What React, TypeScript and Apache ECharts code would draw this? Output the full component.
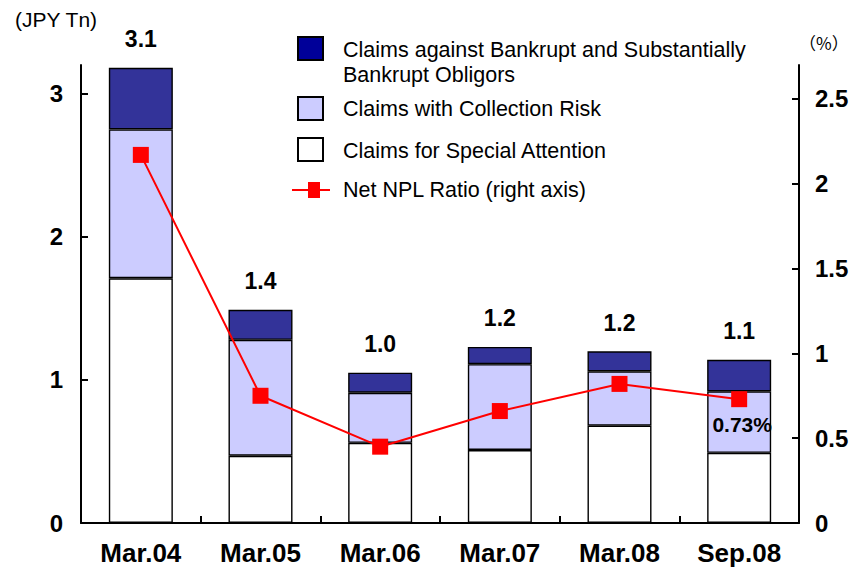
import React, { useEffect, useRef } from "react";
import * as echarts from "echarts";

const categories = ["Mar.04", "Mar.05", "Mar.06", "Mar.07", "Mar.08", "Sep.08"];
const specialAttention = [1.71, 0.47, 0.56, 0.51, 0.68, 0.49];
const collectionRisk = [1.04, 0.81, 0.35, 0.6, 0.38, 0.43];
const bankrupt = [0.43, 0.21, 0.14, 0.12, 0.14, 0.22];
const nplRatio = [2.17, 0.75, 0.45, 0.66, 0.82, 0.73];
const totalLabels = ["3.1", "1.4", "1.0", "1.2", "1.2", "1.1"];
const leftTicks = [0, 1, 2, 3];
const rightTicks = [0, 0.5, 1, 1.5, 2, 2.5];

const seriesNames = [
  "Claims against Bankrupt and Substantially\nBankrupt Obligors",
  "Claims with Collection Risk",
  "Claims for Special Attention",
  "Net NPL Ratio (right axis)",
];

const FONT = "'Liberation Sans', Arial, sans-serif";
const DARK = "#333399";
const LIGHT = "#CCCCFF";

export default function App() {
  const ref = useRef<HTMLDivElement>(null);
  useEffect(() => {
    if (!ref.current) return;
    const chart = echarts.init(ref.current, undefined, { renderer: "svg" });
    const barBorder = { borderColor: "#000", borderWidth: 1.4 };
    const legendText = (text: string, y: number) => ({
      type: "text",
      left: 343,
      top: y,
      style: { text, font: `21.5px ${FONT}`, fill: "#000", lineHeight: 25 },
    });
    chart.setOption({
      animation: false,
      backgroundColor: "#fff",
      textStyle: { fontFamily: FONT },
      grid: { left: 81, right: 55, top: 65, bottom: 45, containLabel: false },
      xAxis: {
        type: "category",
        data: categories,
        axisLine: { lineStyle: { color: "#000", width: 2 } },
        axisTick: { show: true, inside: true, length: 7, lineStyle: { color: "#000", width: 2 } },
        axisLabel: { color: "#000", fontSize: 26, fontWeight: "bold", margin: 17, fontFamily: FONT },
      },
      yAxis: [
        {
          type: "value",
          min: 0,
          max: 3.2,
          interval: 1,
          splitLine: { show: false },
          axisLine: { show: true, lineStyle: { color: "#000", width: 2 } },
          axisTick: { show: true, inside: true, length: 7, lineStyle: { color: "#000", width: 2 } },
          axisLabel: {
            color: "#000",
            fontSize: 24,
            fontWeight: "bold",
            margin: 18,
            fontFamily: FONT,
            showMaxLabel: false,
            formatter: (v: number) => (leftTicks.includes(v) ? String(v) : ""),
          },
        },
        {
          type: "value",
          min: 0,
          max: 2.7,
          interval: 0.5,
          position: "right",
          splitLine: { show: false },
          axisLine: { show: true, lineStyle: { color: "#000", width: 2 } },
          axisTick: { show: true, inside: true, length: 7, lineStyle: { color: "#000", width: 2 } },
          axisLabel: {
            color: "#000",
            fontSize: 24,
            fontWeight: "bold",
            margin: 16,
            fontFamily: FONT,
            showMaxLabel: false,
            formatter: (v: number) => (rightTicks.includes(v) ? String(v) : ""),
          },
        },
      ],
      series: [
        {
          name: seriesNames[2],
          type: "bar",
          stack: "npl",
          data: specialAttention,
          barWidth: 64,
          itemStyle: { color: "#fff", ...barBorder },
        },
        {
          name: seriesNames[1],
          type: "bar",
          stack: "npl",
          data: collectionRisk,
          barWidth: 64,
          itemStyle: { color: LIGHT, ...barBorder },
        },
        {
          name: seriesNames[0],
          type: "bar",
          stack: "npl",
          data: bankrupt,
          barWidth: 64,
          itemStyle: { color: DARK, ...barBorder },
          label: {
            show: true,
            position: "top",
            distance: 17,
            color: "#000",
            fontSize: 23,
            fontWeight: "bold",
            fontFamily: FONT,
            formatter: (p: any) => totalLabels[p.dataIndex],
          },
        },
        {
          name: seriesNames[3],
          type: "line",
          yAxisIndex: 1,
          data: nplRatio.map((v, i) =>
            i === nplRatio.length - 1
              ? {
                  value: v,
                  label: {
                    show: true,
                    position: "bottom",
                    distance: 7,
                    offset: [3, 0],
                    color: "#000",
                    fontSize: 21,
                    fontWeight: "bold",
                    fontFamily: FONT,
                    formatter: (p: any) => `${p.value}%`,
                  },
                }
              : v
          ),
          symbol: "rect",
          symbolSize: 16,
          lineStyle: { color: "#FF0000", width: 2 },
          itemStyle: { color: "#FF0000" },
          z: 5,
        },
      ],
      graphic: [
        {
          type: "text",
          left: 15,
          top: 9,
          style: { text: "(JPY Tn)", font: `21px ${FONT}`, fill: "#000" },
        },
        {
          type: "text",
          left: 799,
          top: 34,
          style: { text: "（%）", font: `17px 'Noto Sans CJK JP', ${FONT}`, fill: "#000" },
        },
        { type: "rect", shape: { x: 298, y: 37, width: 25, height: 23 }, style: { fill: "#000099", stroke: "#000", lineWidth: 2 } },
        legendText(seriesNames[0], 37),
        { type: "rect", shape: { x: 298, y: 97, width: 25, height: 23 }, style: { fill: LIGHT, stroke: "#000", lineWidth: 2 } },
        legendText(seriesNames[1], 96),
        { type: "rect", shape: { x: 298, y: 138, width: 25, height: 23 }, style: { fill: "#fff", stroke: "#000", lineWidth: 2 } },
        legendText(seriesNames[2], 138),
        { type: "line", shape: { x1: 292, y1: 190, x2: 330, y2: 190 }, style: { stroke: "#FF0000", lineWidth: 2 } },
        { type: "rect", shape: { x: 308, y: 182, width: 12, height: 16 }, style: { fill: "#FF0000" } },
        legendText(seriesNames[3], 177),
      ],
    });
    return () => chart.dispose();
  }, []);
  return (
    <div
      ref={ref}
      style={{ position: "fixed", left: 0, top: 0, width: 854, height: 568 }}
    />
  );
}
